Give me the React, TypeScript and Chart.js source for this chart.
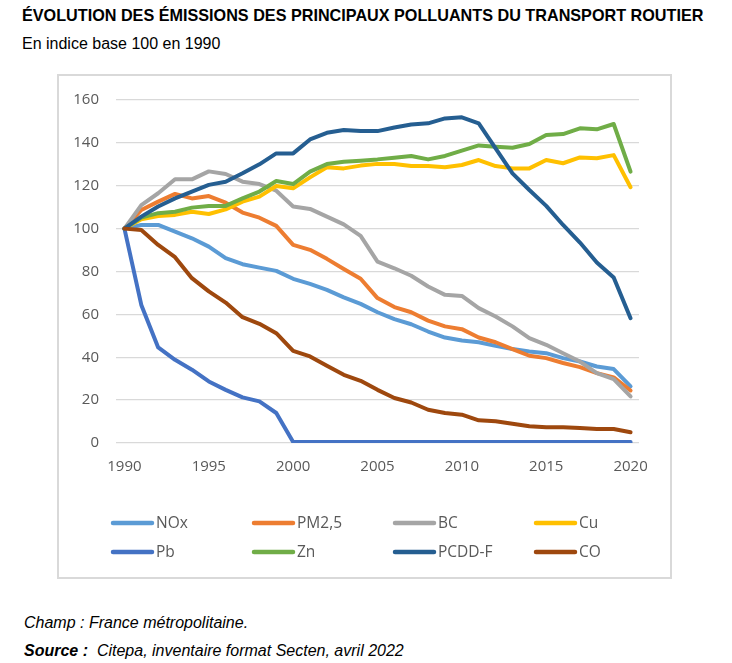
import React, { useEffect, useRef } from "react";
import { Chart, registerables } from "chart.js";

Chart.register(...registerables);

const years = [
  "1990", "1991", "1992", "1993", "1994", "1995", "1996", "1997", "1998", "1999",
  "2000", "2001", "2002", "2003", "2004", "2005", "2006", "2007", "2008", "2009",
  "2010", "2011", "2012", "2013", "2014", "2015", "2016", "2017", "2018", "2019", "2020",
];
const shownYears = ["1990", "1995", "2000", "2005", "2010", "2015", "2020"];

const nox = [100, 101.7, 101.7, 98.6, 95.5, 91.6, 86.2, 83.4, 81.8, 80.3, 76.6, 74.2, 71.4, 67.9, 64.9, 61, 57.8, 55.4, 52, 49.2, 47.8, 47, 45.3, 43.8, 42.7, 41.9, 39.6, 38, 35.7, 34.5, 26.4];
const pm25 = [100, 108.7, 112.6, 116.2, 114.1, 115.2, 112.1, 107.5, 105.1, 101.3, 92.4, 90.1, 85.9, 81.2, 76.6, 67.6, 63.4, 61, 57.1, 54.4, 53.1, 49.2, 47, 43.8, 40.7, 39.6, 37.3, 35.4, 32.6, 30.6, 24.5];
const bc = [100, 111, 116.5, 123, 123, 126.7, 125.5, 121.9, 120.8, 117.7, 110.3, 109.2, 105.6, 102, 96.6, 84.6, 81.5, 78, 73, 69.1, 68.6, 62.9, 59, 54.4, 48.9, 45.8, 41.9, 38, 32.6, 29.8, 21.7];
const cu = [100, 104.4, 105.9, 106.4, 107.9, 106.8, 109, 112.6, 114.9, 119.9, 118.8, 123.9, 128.6, 128.1, 129.4, 130.2, 130.1, 129.2, 129.2, 128.6, 129.7, 132, 129.2, 128.1, 128.1, 132, 130.5, 133.2, 132.8, 134.3, 119.3];
const pb = [100, 64.4, 44.6, 38.8, 34.2, 28.7, 24.8, 21.3, 19.4, 14, 0.5, 0.5, 0.5, 0.5, 0.5, 0.5, 0.5, 0.5, 0.5, 0.5, 0.5, 0.5, 0.5, 0.5, 0.5, 0.5, 0.5, 0.5, 0.5, 0.5, 0.5];
const zn = [100, 105.1, 107.2, 107.9, 109.8, 110.6, 110.6, 114.1, 117.3, 122.2, 120.8, 126.6, 130.1, 131.2, 131.7, 132.3, 133.1, 133.9, 132.3, 133.9, 136.4, 138.8, 138.2, 137.7, 139.5, 143.7, 144.1, 146.8, 146.3, 148.8, 126.6];
const pcddf = [100, 105.6, 110.3, 114.1, 117.3, 120.4, 121.9, 125.8, 130, 135.1, 135.1, 141.6, 144.7, 146, 145.5, 145.5, 147.2, 148.6, 149.1, 151.4, 151.9, 149.1, 137.4, 125.8, 118, 110.6, 101.7, 93.5, 84.2, 77.2, 58.2];
const co = [100, 99.4, 92.4, 86.7, 76.9, 70.7, 65.5, 58.7, 55.6, 51.2, 43, 40.4, 36, 31.8, 29, 24.8, 21, 18.9, 15.5, 14, 13.2, 10.6, 10.1, 9, 7.8, 7.3, 7.3, 7, 6.5, 6.5, 5];

const seriesNames = ["NOx", "PM2,5", "BC", "Cu", "Pb", "Zn", "PCDD-F", "CO"];
const seriesData = [nox, pm25, bc, cu, pb, zn, pcddf, co];
const seriesColors = ["#5B9BD5", "#ED7D31", "#A5A5A5", "#FFC000", "#4472C4", "#70AD47", "#255E91", "#9E480E"];

const FONT = '"Open Sans", "Liberation Sans", sans-serif';
const TEXT_GREY = "#595959";

const gridLegend = {
  id: "gridLegend",
  afterDraw(chart: any) {
    const ctx = chart.ctx;
    const area = chart.chartArea;
    const colStep = 141;
    const rowYs = [area.bottom + 80, area.bottom + 109];
    const x0 = area.left - 5;
    ctx.save();
    ctx.font = `15.5px ${FONT}`;
    ctx.textBaseline = "middle";
    ctx.textAlign = "left";
    chart.data.datasets.forEach((ds: any, i: number) => {
      const col = i % 4;
      const row = Math.floor(i / 4);
      const x = x0 + col * colStep;
      const y = rowYs[row];
      ctx.strokeStyle = ds.borderColor;
      ctx.lineWidth = 4.5;
      ctx.lineCap = "round";
      ctx.beginPath();
      ctx.moveTo(x + 2, y);
      ctx.lineTo(x + 41, y);
      ctx.stroke();
      ctx.fillStyle = TEXT_GREY;
      ctx.fillText(ds.label, x + 45, y + 1);
    });
    ctx.restore();
  },
};

export default function App() {
  const ref = useRef<HTMLCanvasElement>(null);

  useEffect(() => {
    const chart = new Chart(ref.current as HTMLCanvasElement, {
      type: "line",
      data: {
        labels: years,
        datasets: seriesNames.map((name, i) => ({
          label: name,
          data: seriesData[i],
          borderColor: seriesColors[i],
          backgroundColor: seriesColors[i],
          borderWidth: 4,
          pointRadius: 0,
          pointHoverRadius: 0,
          tension: 0,
          fill: false,
          borderJoinStyle: "round" as const,
          borderCapStyle: "round" as const,
          order: seriesNames.length - i,
        })),
      },
      options: {
        responsive: false,
        animation: false,
        devicePixelRatio: 1,
        layout: { padding: { left: 0, top: 26, right: 33, bottom: 96 } },
        plugins: {
          legend: { display: false },
          tooltip: { enabled: false },
          title: { display: false },
        },
        scales: {
          x: {
            type: "category",
            offset: true,
            grid: { display: false, drawTicks: false },
            border: { display: false },
            ticks: {
              autoSkip: false,
              maxRotation: 0,
              padding: 15,
              color: TEXT_GREY,
              font: { family: FONT, size: 15 },
              callback: (_v: any, idx: number) => (shownYears.includes(years[idx]) ? years[idx] : ""),
            },
            afterFit: (scale: any) => {
              scale.height = 40;
            },
          },
          y: {
            min: 0,
            max: 160,
            ticks: {
              stepSize: 20,
              padding: 17,
              color: TEXT_GREY,
              font: { family: FONT, size: 15 },
            },
            grid: { color: "#D9D9D9", lineWidth: 1.3, drawTicks: false },
            border: { display: false },
            afterFit: (scale: any) => {
              scale.width = 59;
            },
          },
        },
      },
      plugins: [gridLegend],
    });
    return () => chart.destroy();
  }, []);

  const arial = '"Liberation Sans", Arial, sans-serif';

  return (
    <div
      style={{
        position: "absolute",
        left: 0,
        top: 0,
        width: 732,
        height: 663,
        background: "#ffffff",
        fontFamily: arial,
        color: "#000000",
      }}
    >
      <div style={{ position: "absolute", left: 22, top: 6, fontWeight: "bold", fontSize: 16.2, whiteSpace: "nowrap" }}>
        ÉVOLUTION DES ÉMISSIONS DES PRINCIPAUX POLLUANTS DU TRANSPORT ROUTIER
      </div>
      <div style={{ position: "absolute", left: 22, top: 35, fontSize: 16, whiteSpace: "nowrap" }}>
        En indice base 100 en 1990
      </div>
      <div style={{ position: "absolute", left: 57, top: 74, width: 615, height: 505 }}>
        <canvas ref={ref} width={615} height={505} style={{ display: "block", width: 615, height: 505 }} />
        <div
          style={{
            position: "absolute",
            left: 0,
            top: 0,
            width: 615,
            height: 505,
            border: "2px solid #D9D9D9",
            boxSizing: "border-box",
            pointerEvents: "none",
          }}
        />
      </div>
      <div style={{ position: "absolute", left: 24, top: 614, fontSize: 16, fontStyle: "italic", whiteSpace: "nowrap" }}>
        Champ : France métropolitaine.
      </div>
      <div style={{ position: "absolute", left: 24, top: 642, fontSize: 16, fontStyle: "italic", whiteSpace: "nowrap" }}>
        <b>Source :</b>&nbsp; Citepa, inventaire format Secten, avril 2022
      </div>
    </div>
  );
}
